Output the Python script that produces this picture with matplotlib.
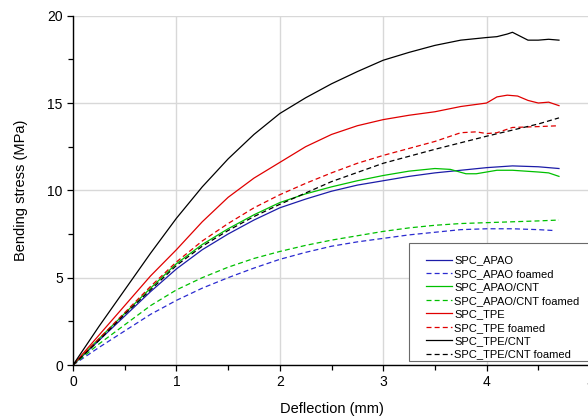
import matplotlib
matplotlib.use('Agg')
import matplotlib.pyplot as plt
from matplotlib.patches import Rectangle
from matplotlib.ticker import MultipleLocator

plt.rcParams['font.family'] = ['Liberation Sans', 'DejaVu Sans']

# ---- data (deflection mm, stress MPa)
x_apao = [0, 0.25, 0.5, 0.75, 1, 1.25, 1.5, 1.75, 2, 2.25, 2.5, 2.75, 3, 3.25, 3.5, 3.75, 4, 4.25, 4.5, 4.7]
y_apao = [0, 1.4, 2.8, 4.2, 5.5, 6.6, 7.5, 8.3, 9.0, 9.5, 9.95, 10.3, 10.55, 10.8, 11.0, 11.15, 11.3, 11.4, 11.35, 11.25]

x_apao_f = [0, 0.25, 0.5, 0.75, 1, 1.25, 1.5, 1.75, 2, 2.25, 2.5, 2.75, 3, 3.25, 3.5, 3.75, 4, 4.25, 4.5, 4.65]
y_apao_f = [0, 1.0, 1.95, 2.9, 3.7, 4.4, 5.0, 5.55, 6.05, 6.45, 6.8, 7.05, 7.25, 7.45, 7.6, 7.75, 7.8, 7.8, 7.75, 7.7]

x_cnt = [0, 0.25, 0.5, 0.75, 1, 1.25, 1.5, 1.75, 2, 2.25, 2.5, 2.75, 3, 3.25, 3.5, 3.65, 3.8, 3.9, 4.1, 4.25, 4.5, 4.6, 4.7]
y_cnt = [0, 1.5, 2.95, 4.4, 5.8, 6.9, 7.8, 8.6, 9.3, 9.8, 10.2, 10.55, 10.85, 11.1, 11.25, 11.2, 10.95, 10.95, 11.15, 11.15, 11.05, 11.0, 10.8]

x_cnt_f = [0, 0.25, 0.5, 0.75, 1, 1.25, 1.5, 1.75, 2, 2.25, 2.5, 2.75, 3, 3.25, 3.5, 3.75, 4, 4.25, 4.5, 4.7]
y_cnt_f = [0, 1.2, 2.3, 3.4, 4.3, 5.0, 5.6, 6.1, 6.5, 6.85, 7.15, 7.4, 7.65, 7.85, 8.0, 8.1, 8.15, 8.2, 8.25, 8.3]

x_tpe = [0, 0.25, 0.5, 0.75, 1, 1.25, 1.5, 1.75, 2, 2.25, 2.5, 2.75, 3, 3.25, 3.5, 3.75, 4, 4.1, 4.2, 4.3, 4.4, 4.5, 4.6, 4.7]
y_tpe = [0, 1.7, 3.4, 5.1, 6.6, 8.2, 9.6, 10.7, 11.6, 12.5, 13.2, 13.7, 14.05, 14.3, 14.5, 14.8, 15.0, 15.35, 15.45, 15.4, 15.15, 15.0, 15.05, 14.85]

x_tpe_f = [0, 0.25, 0.5, 0.75, 1, 1.25, 1.5, 1.75, 2, 2.25, 2.5, 2.75, 3, 3.25, 3.5, 3.75, 3.9, 4, 4.1, 4.25, 4.5, 4.7]
y_tpe_f = [0, 1.5, 3.0, 4.5, 5.9, 7.1, 8.1, 9.0, 9.75, 10.4, 11.0, 11.55, 12.0, 12.4, 12.8, 13.3, 13.35, 13.25, 13.3, 13.6, 13.65, 13.7]

x_tcnt = [0, 0.25, 0.5, 0.75, 1, 1.25, 1.5, 1.75, 2, 2.25, 2.5, 2.75, 3, 3.25, 3.5, 3.75, 4, 4.1, 4.2, 4.25, 4.3, 4.4, 4.5, 4.6, 4.7]
y_tcnt = [0, 2.2, 4.3, 6.4, 8.4, 10.2, 11.8, 13.2, 14.4, 15.3, 16.1, 16.8, 17.45, 17.9, 18.3, 18.6, 18.75, 18.8, 18.95, 19.05, 18.9, 18.6, 18.6, 18.65, 18.6]

x_tcnt_f = [0, 0.25, 0.5, 0.75, 1, 1.25, 1.5, 1.75, 2, 2.5, 3, 3.5, 4, 4.5, 4.7]
y_tcnt_f = [0, 1.4, 2.9, 4.3, 5.7, 6.8, 7.7, 8.5, 9.2, 10.5, 11.55, 12.35, 13.1, 13.8, 14.15]

series = [
    ('SPC_APAO', x_apao, y_apao, '#1c1ca8', '-'),
    ('SPC_APAO foamed', x_apao_f, y_apao_f, '#2b2bd0', '--'),
    ('SPC_APAO/CNT', x_cnt, y_cnt, '#00c000', '-'),
    ('SPC_APAO/CNT foamed', x_cnt_f, y_cnt_f, '#00c000', '--'),
    ('SPC_TPE', x_tpe, y_tpe, '#e00000', '-'),
    ('SPC_TPE foamed', x_tpe_f, y_tpe_f, '#e00000', '--'),
    ('SPC_TPE/CNT', x_tcnt, y_tcnt, '#000000', '-'),
    ('SPC_TPE/CNT foamed', x_tcnt_f, y_tcnt_f, '#000000', '--'),
]

fig = plt.figure(figsize=(5.88, 4.19), dpi=100)
ax = fig.add_axes([73/588, 1 - 365/419, (590 - 73)/588, (365 - 15.7)/419])

for name, x, y, color, ls in series:
    if ls == '--':
        ax.plot(x, y, color=color, linestyle=(0, (4, 2.5)), linewidth=0.9, label=name)
    else:
        ax.plot(x, y, color=color, linestyle='-', linewidth=0.9, label=name)

ax.set_xlim(0, 5)
ax.set_ylim(0, 20)
ax.xaxis.set_major_locator(MultipleLocator(1))
ax.xaxis.set_minor_locator(MultipleLocator(0.5))
ax.yaxis.set_major_locator(MultipleLocator(5))
ax.yaxis.set_minor_locator(MultipleLocator(2.5))
ax.tick_params(which='major', direction='out', length=4.3, width=0.9, labelsize=10, colors='black', pad=3)
ax.tick_params(which='minor', direction='out', length=3.6, width=0.9)
ax.grid(True, which='major', color='#d8d8d8', linewidth=1.0)
ax.set_axisbelow(True)
for s in ['top', 'right']:
    ax.spines[s].set_visible(False)
for s in ['left', 'bottom']:
    ax.spines[s].set_linewidth(1.0)

ax.set_xlabel('Deflection (mm)', fontsize=10.5, labelpad=9)
ax.set_ylabel('Bending stress (MPa)', fontsize=10.5, labelpad=14)

# legend frame: runs off the right edge of the picture
frame = Rectangle((409/588, 1 - 361/419), 0.5, (361 - 243)/419, transform=fig.transFigure,
                  facecolor='white', edgecolor='#6a6a6a', linewidth=0.8, zorder=4, clip_on=False)
ax.add_patch(frame)

leg = ax.legend(loc='upper left', bbox_to_anchor=(426/588, 1 - 255.5/419),
                bbox_transform=fig.transFigure, fontsize=8, frameon=False,
                labelspacing=0.31, handlelength=2.35, handletextpad=0.2,
                borderpad=0, borderaxespad=0)
leg.set_zorder(5)

fig.savefig('out.png', dpi=100)
